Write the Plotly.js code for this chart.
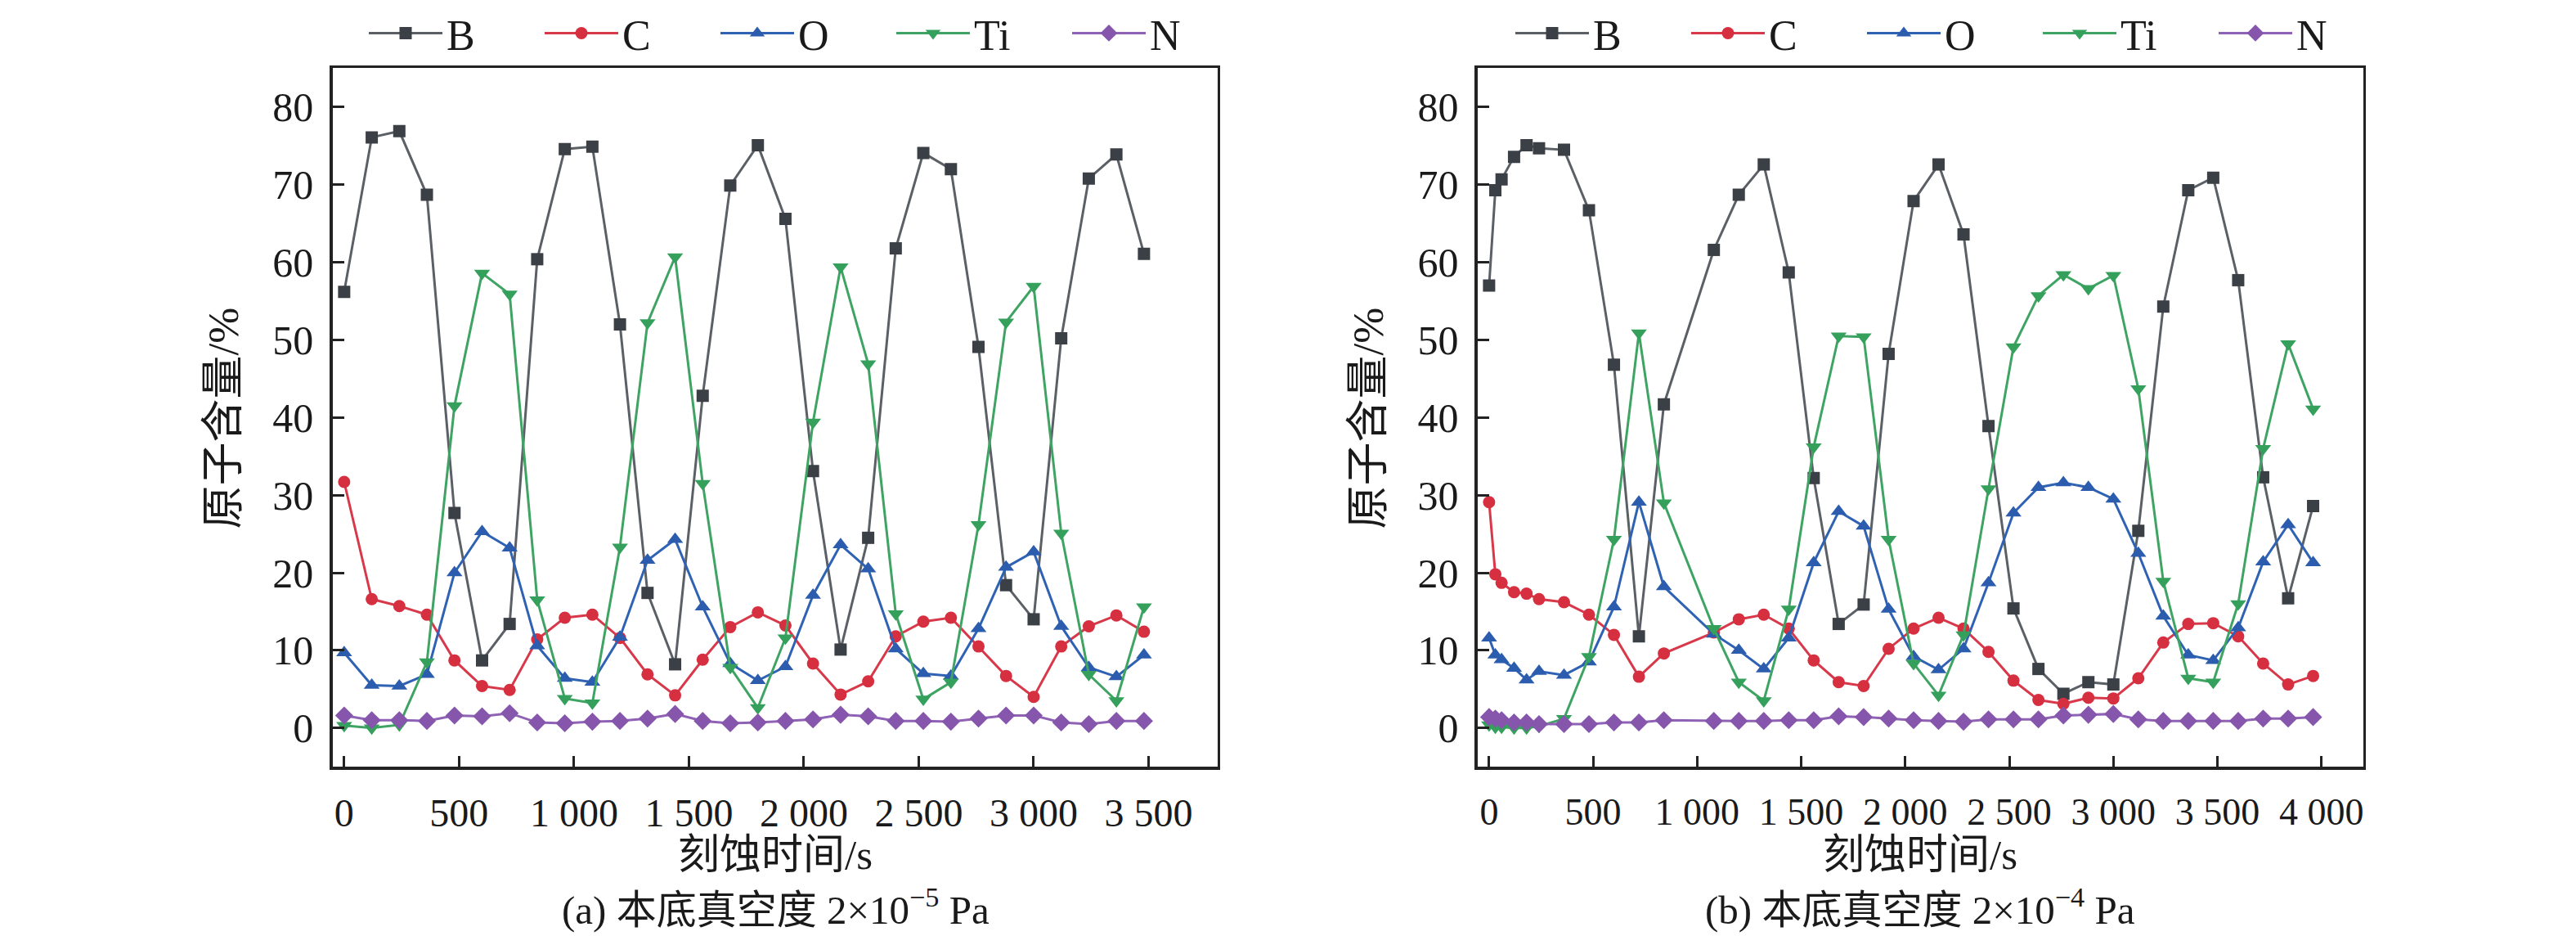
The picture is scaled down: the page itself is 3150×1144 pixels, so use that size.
<!DOCTYPE html>
<html>
<head>
<meta charset="utf-8">
<script src="https://cdn.plot.ly/plotly-3.0.1.min.js"></script>
<style>html,body{margin:0;padding:0;background:#fff;}#chart{width:3150px;height:1144px;}</style>
</head>
<body>
<div id="chart"></div>
<script>
// ---- Panel (a): base vacuum 2x10^-5 Pa ----
const timeA = [0,120,240,360,480,600,720,840,960,1080,1200,1320,1440,1560,1680,1800,1920,2040,2160,2280,2400,2520,2640,2760,2880,3000,3120,3240,3360,3480];
const B_a  = [56.2,76.1,76.9,68.7,27.7,8.7,13.4,60.4,74.6,74.9,52.0,17.4,8.2,42.8,69.9,75.1,65.6,33.1,10.1,24.5,61.8,74.1,72.0,49.1,18.4,14.0,50.2,70.8,73.9,61.1];
const C_a  = [31.7,16.6,15.7,14.6,8.7,5.4,4.9,11.4,14.2,14.6,11.6,6.9,4.2,8.8,13.0,14.9,13.2,8.3,4.3,6.0,11.8,13.7,14.2,10.5,6.7,4.0,10.5,13.1,14.5,12.4];
const O_a  = [9.7,5.5,5.4,6.9,20.0,25.3,23.2,10.6,6.4,5.9,11.7,21.6,24.3,15.6,8.3,6.1,7.9,17.1,23.6,20.5,10.2,7.0,6.7,12.8,20.7,22.7,13.1,7.8,6.6,9.4];
const Ti_a = [0.3,0.0,0.4,8.5,41.5,58.6,55.9,16.5,3.8,3.2,23.3,52.2,60.7,31.5,7.8,2.6,11.6,39.4,59.4,46.9,14.7,3.7,5.9,26.2,52.3,56.9,25.1,6.9,3.5,15.6];
const N_a  = [1.6,1.0,1.0,0.9,1.6,1.5,1.9,0.7,0.6,0.8,0.9,1.2,1.8,0.9,0.6,0.7,0.9,1.1,1.7,1.5,0.9,0.9,0.8,1.2,1.6,1.6,0.7,0.5,0.9,0.9];

// ---- Panel (b): base vacuum 2x10^-4 Pa ----
const timeB = [0,30,60,120,180,240,360,480,600,720,840,1080,1200,1320,1440,1560,1680,1800,1920,2040,2160,2280,2400,2520,2640,2760,2880,3000,3120,3240,3360,3480,3600,3720,3840,3960];
const B_b  = [57.0,69.3,70.7,73.6,75.1,74.7,74.5,66.7,46.8,11.8,41.7,61.6,68.7,72.6,58.7,32.2,13.4,15.9,48.2,67.9,72.6,63.6,38.9,15.4,7.6,4.4,5.9,5.6,25.4,54.3,69.3,70.9,57.7,32.3,16.7,28.6];
const C_b  = [29.1,19.8,18.7,17.5,17.3,16.6,16.2,14.6,12.0,6.6,9.6,12.3,14.0,14.6,12.8,8.7,5.9,5.4,10.2,12.8,14.2,12.8,9.8,6.1,3.6,3.1,3.9,3.8,6.4,11.0,13.4,13.5,11.8,8.3,5.6,6.7];
const O_b  = [11.6,9.4,8.8,7.7,6.2,7.3,6.8,8.5,15.6,29.1,18.2,12.1,10.0,7.6,11.6,21.3,27.9,26.0,15.3,9.2,7.5,10.2,18.7,27.7,31.0,31.6,31.0,29.5,22.5,14.4,9.4,8.7,12.9,21.4,26.2,21.3];
const Ti_b = [0.4,0.1,0.1,0.0,0.0,0.2,1.2,9.2,24.3,50.9,29.0,12.8,5.9,3.5,15.3,36.2,50.5,50.4,24.3,8.3,4.2,12.0,30.8,49.1,55.7,58.4,56.6,58.3,43.7,18.9,6.4,5.9,16.0,36.0,49.5,41.1];
const N_b  = [1.4,1.2,1.0,0.7,0.7,0.5,0.5,0.5,0.7,0.7,1.0,0.9,0.9,0.9,1.0,1.0,1.5,1.4,1.2,1.0,0.9,0.8,1.1,1.1,1.1,1.6,1.7,1.8,1.1,0.9,0.9,0.9,0.9,1.2,1.2,1.4];

// ---- labels ----
const seriesNames = ['B','C','O','Ti','N'];
const yTickVals = [0,10,20,30,40,50,60,70,80];
const xTickValsA = [0,500,1000,1500,2000,2500,3000,3500];
const xTickTextA = ['0','500','1 000','1 500','2 000','2 500','3 000','3 500'];
const xTickValsB = [0,500,1000,1500,2000,2500,3000,3500,4000];
const xTickTextB = ['0','500','1 000','1 500','2 000','2 500','3 000','3 500','4 000'];
const yTitle = '原子含量/%';
const xTitle = '刻蚀时间/s';
const captionA = '(a) 本底真空度 2×10<sup>−5</sup> Pa';
const captionB = '(b) 本底真空度 2×10<sup>−4</sup> Pa';

const styles = [
  {line:'#5b5f66', marker:'#3b3f46', symbol:'square', size:15},
  {line:'#d8394a', marker:'#d62f40', symbol:'circle', size:15},
  {line:'#2f62b3', marker:'#2b5cad', symbol:'triangle-up', size:17},
  {line:'#3fa463', marker:'#35a05c', symbol:'triangle-down', size:17},
  {line:'#8f62b5', marker:'#8656ad', symbol:'diamond', size:17}
];

const FONT = '"Liberation Serif", "Times New Roman", "Noto Sans CJK SC", serif';
const TXT = '#1a1a1a';
const seriesA = [B_a, C_a, O_a, Ti_a, N_a];
const seriesB = [B_b, C_b, O_b, Ti_b, N_b];

const traces = [];
function addPanel(xs, series, xa, ya, lg) {
  series.forEach((ys, i) => {
    traces.push({
      x: xs, y: ys, name: seriesNames[i], type: 'scatter', mode: 'lines+markers',
      xaxis: xa, yaxis: ya, legend: lg,
      line: {color: styles[i].line, width: 3},
      marker: {color: styles[i].marker, symbol: styles[i].symbol, size: styles[i].size}
    });
  });
}
addPanel(timeA, seriesA, 'x', 'y', 'legend');
addPanel(timeB, seriesB, 'x2', 'y2', 'legend2');

const W = 3150, H = 1144;
const yDom = [1 - 934/H, 1 - 67.5/H];
const domA = [406.8/W, 1488.8/W];
const domB = [1806.9/W, 2889.6/W];

function xAxis(domain, range, vals, text, anchor, fsize) {
  return {
    domain: domain, range: range, tickvals: vals, ticktext: text, anchor: anchor,
    tickangle: 0,
    ticks: 'inside', ticklen: 13, tickwidth: 3, tickcolor: '#222',
    showline: true, linewidth: 3.5, linecolor: '#222', mirror: true,
    showgrid: false, zeroline: false,
    tickfont: {family: FONT, size: fsize, color: TXT},
    ticklabelstandoff: 12
  };
}
function yAxis(domain, anchor) {
  return {
    domain: domain, range: [-5, 85], tickvals: yTickVals, anchor: anchor,
    ticks: 'inside', ticklen: 14, tickwidth: 3, tickcolor: '#222',
    showline: true, linewidth: 3.5, linecolor: '#222', mirror: true,
    showgrid: false, zeroline: false,
    tickfont: {family: FONT, size: 50, color: TXT},
    ticklabelstandoff: 10
  };
}

const legendCommon = {
  orientation: 'h', yanchor: 'middle', xanchor: 'left', y: 1 - 24/H,
  font: {family: FONT, size: 52, color: TXT},
  bgcolor: 'rgba(0,0,0,0)', borderwidth: 0,
  entrywidth: 110, entrywidthmode: 'pixels', itemwidth: 90
};

function ann(text, x, y, size, angle) {
  return {text: text, xref: 'paper', yref: 'paper', x: x/W, y: 1 - y/H,
    xanchor: 'center', yanchor: 'middle', showarrow: false, textangle: angle || 0,
    font: {family: FONT, size: size, color: TXT}};
}

const layout = {
  width: W, height: H,
  margin: {l: 0, r: 0, t: 0, b: 0},
  paper_bgcolor: '#fff', plot_bgcolor: '#fff',
  showlegend: true,
  xaxis: xAxis(domA, [-50, 3800], xTickValsA, xTickTextA, 'y', 48),
  yaxis: yAxis(yDom, 'x'),
  xaxis2: xAxis(domB, [-55, 4200], xTickValsB, xTickTextB, 'y2', 46),
  yaxis2: yAxis(yDom, 'x2'),
  legend: Object.assign({}, legendCommon, {x: 446/W}),
  legend2: Object.assign({}, legendCommon, {x: 1848/W}),
  annotations: [
    ann(yTitle, 273, 502, 53, -90),
    ann(yTitle, 1673, 502, 53, -90),
    ann(xTitle, 948, 1044, 51),
    ann(xTitle, 2348, 1044, 51),
    ann(captionA, 948, 1108, 49),
    ann(captionB, 2348, 1108, 49)
  ]
};

Plotly.newPlot('chart', traces, layout, {displayModeBar: false, staticPlot: true});
</script>
</body>
</html>
